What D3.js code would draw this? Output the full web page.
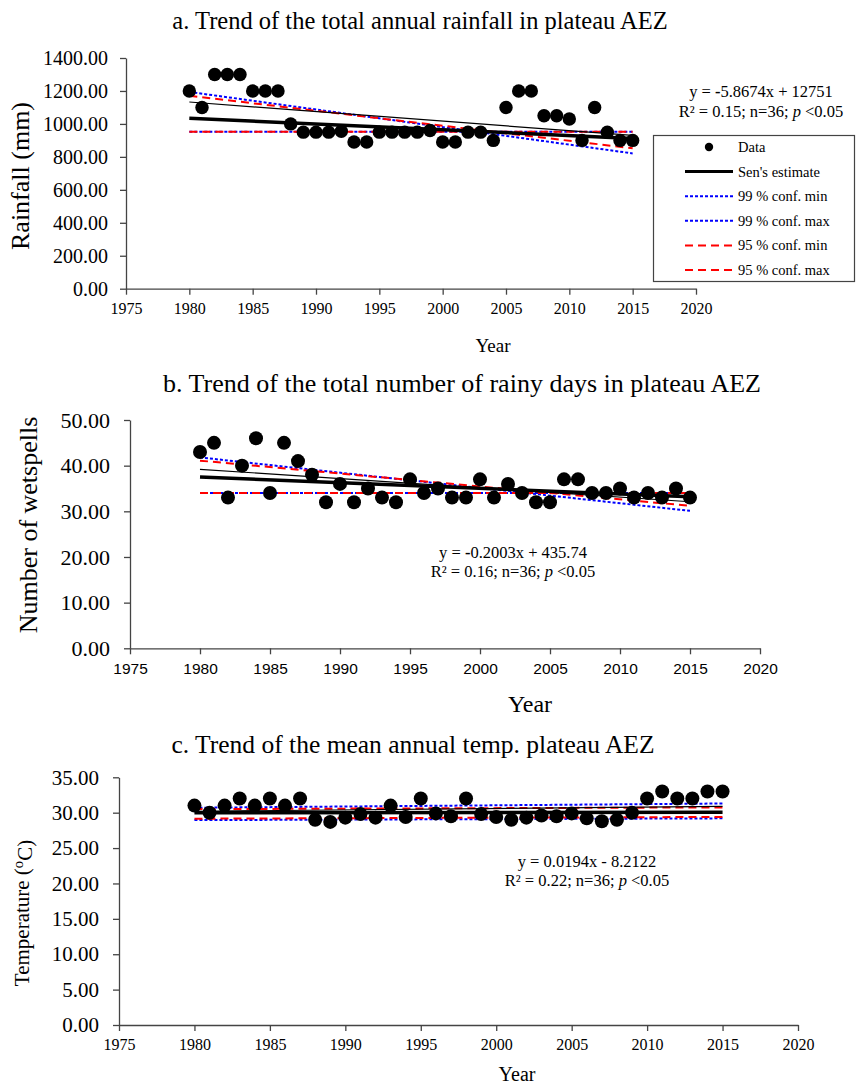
<!DOCTYPE html>
<html><head><meta charset="utf-8">
<script src="https://cdn.jsdelivr.net/npm/d3@7"></script>
<style>
body{margin:0;background:#fff}
svg{display:block}
text{font-family:"Liberation Serif","Times New Roman",serif;fill:#000}
</style>
</head><body>
<svg id="chart" width="856" height="1084"></svg>
<script>
// ---------- data ----------
const years = [1980,1981,1982,1983,1984,1985,1986,1987,1988,1989,1990,1991,1992,1993,1994,1995,1996,1997,
               1998,1999,2000,2001,2002,2003,2004,2005,2006,2007,2008,2009,2010,2011,2012,2013,2014,2015];
const rainfall = [1200,1100,1300,1300,1300,1200,1200,1200,1000,950,950,950,955,890,890,950,950,950,
                  950,960,890,890,950,950,900,1100,1200,1200,1050,1050,1030,900,1100,950,900,900];
const rainyDays = [43,45,33,40,46,34,45,41,38,32,36,32,35,33,32,37,34,35,
                   33,33,37,33,36,34,32,32,37,37,34,34,35,33,34,33,35,33];
const temperature = [31,30,31,32,31,32,31,32,29,28.7,29.3,29.8,29.3,31,29.4,32,29.9,29.5,
                     32,29.8,29.4,29,29.3,29.6,29.5,29.9,29.2,28.8,29,30,32,33,32,32,33,33];

const xTicks = [1975,1980,1985,1990,1995,2000,2005,2010,2015,2020];
const rainTicks = [0,200,400,600,800,1000,1200,1400];
const daysTicks = [0,10,20,30,40,50];
const tempTicks = [0,5,10,15,20,25,30,35];

// trend lines: values at start and end years
const trendYears = [1980, 2015];
const rainSen = [1034, 912];
const rainReg = [1133, 930];
const rain99min = [953, 953];
const rain99max = [1194, 821];
const rain95min = [953, 953];
const rain95max = [1171, 852];

const daysSen = [37.5, 33.2];
const daysReg = [39.2, 32.1];
const days99min = [34, 34];
const days99max = [41.8, 30.1];
const days95min = [34, 34];
const days95max = [41.1, 31.2];

const tempSen = [30.0, 30.05];
const tempReg = [30.2, 30.88];
const temp99min = [28.95, 29.2];
const temp99max = [30.7, 31.3];
const temp95min = [29.15, 29.4];
const temp95max = [30.5, 30.75];

const legendLabels = ["Data","Sen's estimate","99 % conf. min","99 % conf. max","95 % conf. min","95 % conf. max"];

// ---------- drawing ----------
const svg = d3.select("#chart");
const styles = {
  sen:{stroke:"#000", w:3.5, dash:null},
  reg:{stroke:"#000", w:1.2, dash:null},
  c99:{stroke:"#0000ff", w:2, dash:"3,2"},
  c95:{stroke:"#ff0000", w:2, dash:"8,5"}
};

function panel(cfg){
  const x = d3.scaleLinear().domain([1975,2020]).range([cfg.left, cfg.right]);
  const y = d3.scaleLinear().domain([0, cfg.ymax]).range([cfg.bottom, cfg.top]);
  const g = svg.append("g");

  const xa = g.append("g").attr("transform",`translate(0,${cfg.bottom})`)
    .call(d3.axisBottom(x).tickValues(xTicks).tickFormat(d3.format("d")).tickSize(6).tickSizeOuter(0).tickPadding(cfg.xPad));
  xa.selectAll("text").style("font-family", cfg.xFont).style("font-size", cfg.xFs+"px");
  const ya = g.append("g").attr("transform",`translate(${cfg.left},0)`)
    .call(d3.axisLeft(y).tickValues(cfg.yTicks).tickFormat(d3.format(".2f")).tickSize(6).tickSizeOuter(0).tickPadding(cfg.yPad));
  ya.selectAll("text").style("font-size", cfg.yFs+"px");
  g.selectAll(".domain, .tick line").attr("stroke","#444").attr("stroke-width",1.3);

  const line = d3.line().x((d,i)=>x(trendYears[i])).y(d=>y(d));
  const lines = [
    [cfg.l99min, styles.c99],[cfg.l99max, styles.c99],
    [cfg.l95min, styles.c95],[cfg.l95max, styles.c95],
    [cfg.reg, styles.reg],[cfg.sen, styles.sen]
  ];
  lines.forEach(([vals, s])=>{
    g.append("path").datum(vals).attr("d", line).attr("fill","none")
      .attr("stroke", s.stroke).attr("stroke-width", s.w)
      .attr("stroke-dasharray", s.dash);
  });

  g.selectAll("circle.pt").data(cfg.values).join("circle").attr("class","pt")
    .attr("cx",(d,i)=>x(years[i])).attr("cy",d=>y(d)).attr("r",cfg.r).attr("fill","#000");

  // title
  g.append("text").attr("x",cfg.titleX).attr("y",cfg.titleY).attr("text-anchor","middle")
    .style("font-size",cfg.titleFs+"px").text(cfg.title);
  // x label
  g.append("text").attr("x",cfg.xlabX).attr("y",cfg.xlabY).attr("text-anchor","middle")
    .style("font-size",cfg.xlabFs+"px").text("Year");
  // y label
  const yl = g.append("text").attr("transform",`translate(${cfg.ylabX},${cfg.ylabY}) rotate(-90)`)
    .attr("text-anchor","middle").style("font-size",cfg.ylabFs+"px");
  cfg.ylabel(yl);
  // equation
  const e1 = g.append("text").attr("x",cfg.eqX).attr("y",cfg.eqY).attr("text-anchor","middle").style("font-size",cfg.eqFs+"px");
  e1.append("tspan").text("y = ");
  if(cfg.eqNeg){ e1.append("tspan").style("font-weight","bold").text("-"); }
  e1.append("tspan").text(cfg.eq1);
  const e2 = g.append("text").attr("x",cfg.eqX).attr("y",cfg.eqY+cfg.eqGap).attr("text-anchor","middle").style("font-size",cfg.eqFs+"px");
  e2.append("tspan").text(cfg.eq2);
  e2.append("tspan").style("font-style","italic").text("p");
  e2.append("tspan").text(" <0.05");
  return {x,y};
}

panel({
  left:126, right:696, top:58, bottom:288.7, ymax:1400, yTicks:rainTicks,
  xPad:8, xFs:16, xFont:'"Liberation Serif", serif', yPad:12, yFs:20,
  values:rainfall, r:6.7,
  sen:rainSen, reg:rainReg, l99min:rain99min, l99max:rain99max, l95min:rain95min, l95max:rain95max,
  title:"a. Trend of the total annual rainfall in plateau AEZ", titleX:420, titleY:29, titleFs:24.5,
  xlabX:493, xlabY:352, xlabFs:19,
  ylabX:29, ylabY:176, ylabFs:26, ylabel:t=>t.text("Rainfall (mm)"),
  eqX:761, eqY:97, eqGap:20, eqFs:16.5, eqNeg:true, eq1:"5.8674x + 12751", eq2:"R² = 0.15; n=36; "
});

panel({
  left:130, right:760, top:420, bottom:648.3, ymax:50, yTicks:daysTicks,
  xPad:8.5, xFs:15.5, xFont:'"Liberation Sans", Arial, sans-serif', yPad:14, yFs:22,
  values:rainyDays, r:7,
  sen:daysSen, reg:daysReg, l99min:days99min, l99max:days99max, l95min:days95min, l95max:days95max,
  title:"b. Trend of the total number of rainy days in plateau AEZ", titleX:462, titleY:392, titleFs:26,
  xlabX:530, xlabY:712, xlabFs:24,
  ylabX:37, ylabY:525, ylabFs:26, ylabel:t=>t.text("Number of wetspells"),
  eqX:513, eqY:558, eqGap:19, eqFs:16.5, eqNeg:true, eq1:"0.2003x + 435.74", eq2:"R² = 0.16; n=36; "
});

panel({
  left:119, right:798, top:777.3, bottom:1025, ymax:35, yTicks:tempTicks,
  xPad:8, xFs:16, xFont:'"Liberation Serif", serif', yPad:14, yFs:21,
  values:temperature, r:7,
  sen:tempSen, reg:tempReg, l99min:temp99min, l99max:temp99max, l95min:temp95min, l95max:temp95max,
  title:"c. Trend of the mean annual temp. plateau AEZ", titleX:413, titleY:753, titleFs:25.5,
  xlabX:517, xlabY:1081, xlabFs:20,
  ylabX:29, ylabY:913, ylabFs:21,
  ylabel:t=>{ t.append("tspan").text("Temperature ("); t.append("tspan").attr("dy","-0.4em").style("font-size","0.7em").text("o");
              t.append("tspan").attr("dy","0.4em").text("C)"); },
  eqX:587, eqY:867, eqGap:19, eqFs:16.5, eqNeg:false, eq1:"0.0194x - 8.2122", eq2:"R² = 0.22; n=36; "
});

// legend for panel a
const lg = svg.append("g");
lg.append("rect").attr("x",653.5).attr("y",135.5).attr("width",201).attr("height",146)
  .attr("fill","#fff").attr("stroke","#444").attr("stroke-width",1.2);
const rowY = d3.scalePoint().domain(legendLabels).range([147,270]);
const legendStyles = [null, styles.sen, styles.c99, styles.c99, styles.c95, styles.c95];
legendLabels.forEach((lab,i)=>{
  const yy = rowY(lab);
  const s = legendStyles[i];
  if(s===null){
    lg.append("circle").attr("cx",709).attr("cy",yy).attr("r",4.2).attr("fill","#000");
  } else {
    lg.append("line").attr("x1",685).attr("x2",733).attr("y1",yy).attr("y2",yy)
      .attr("stroke",s.stroke).attr("stroke-width",s===styles.sen?3:2).attr("stroke-dasharray",s.dash);
  }
  lg.append("text").attr("x",738).attr("y",yy+5).style("font-size","14.5px").text(lab);
});
</script>
</body></html>
